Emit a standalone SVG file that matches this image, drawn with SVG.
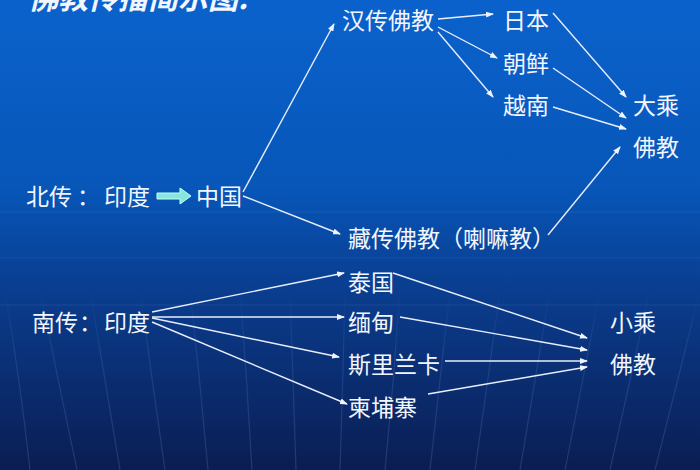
<svg xmlns="http://www.w3.org/2000/svg" width="700" height="470" viewBox="0 0 700 470">
<defs>
<linearGradient id="bg" x1="0" y1="0" x2="0" y2="1">
<stop offset="0" stop-color="#0b62cc"/>
<stop offset="0.4" stop-color="#0756b8"/>
<stop offset="0.6" stop-color="#0a3f92"/>
<stop offset="1" stop-color="#0b1d52"/>
</linearGradient>
<linearGradient id="fade" x1="0" y1="0" x2="0" y2="1">
<stop offset="0" stop-color="#9fc0ff" stop-opacity="0"/>
<stop offset="0.35" stop-color="#9fc0ff" stop-opacity="0.12"/>
<stop offset="1" stop-color="#9fc0ff" stop-opacity="0.16"/>
</linearGradient>
<marker id="ah" markerWidth="8" markerHeight="6" refX="7" refY="3" orient="auto" markerUnits="userSpaceOnUse">
<path d="M0,0 L8,3 L0,6 Z" fill="#eef3ff"/>
</marker>
<style>
text{font-family:"Noto Sans CJK SC","Noto Sans",sans-serif;fill:#f2f6ff;font-size:23px}
.title{font-size:30px;font-style:italic;font-weight:bold}
.c line{stroke:#e8eefc;stroke-width:1.4;marker-end:url(#ah)}
.grid line{stroke:#9fc0ff;stroke-opacity:0.1;stroke-width:1.2}
.grid path{stroke:url(#fade);stroke-width:1.2;fill:none}
</style>
</defs>
<rect width="700" height="470" fill="url(#bg)"/>
<g class="grid">
<line x1="0" y1="212" x2="700" y2="212"/>
<line x1="0" y1="258" x2="700" y2="258"/>
<line x1="0" y1="305" x2="700" y2="305"/>
<path d="M5,290 Q20,380 30,470"/>
<path d="M40,290 Q58,380 77,470"/>
<path d="M90,290 Q105,380 120,470"/>
<path d="M140,290 Q152,380 165,470"/>
<path d="M190,290 Q200,380 208,470"/>
<path d="M240,290 Q247,380 252,470"/>
<path d="M290,290 Q293,380 296,470"/>
<path d="M345,290 Q343,380 340,470"/>
<path d="M400,290 Q394,380 385,470"/>
<path d="M450,290 Q440,380 430,470"/>
<path d="M500,290 Q488,380 475,470"/>
<path d="M550,290 Q535,380 520,470"/>
<path d="M600,290 Q583,380 565,470"/>
<path d="M650,290 Q630,380 610,470"/>
<path d="M700,290 Q678,380 655,470"/>
</g>
<text class="title" x="28" y="9">佛教传播简示图:</text>
<g class="c" id="connectors">
<line x1="243" y1="192" x2="334" y2="24"/>
<line x1="243" y1="196" x2="340" y2="234"/>
<line x1="438" y1="19" x2="493" y2="14"/>
<line x1="438" y1="27" x2="497" y2="58"/>
<line x1="438" y1="32" x2="493" y2="97"/>
<line x1="553" y1="13" x2="626" y2="97"/>
<line x1="553" y1="68" x2="626" y2="118"/>
<line x1="553" y1="107" x2="626" y2="129"/>
<line x1="548" y1="235" x2="620" y2="147"/>
<line x1="152" y1="312" x2="344" y2="273"/>
<line x1="152" y1="317" x2="344" y2="317"/>
<line x1="152" y1="318" x2="339" y2="357"/>
<line x1="152" y1="322" x2="347" y2="404"/>
<line x1="393" y1="273" x2="587" y2="338"/>
<line x1="400" y1="317" x2="587" y2="350"/>
<line x1="445" y1="361" x2="587" y2="361"/>
<line x1="428" y1="394" x2="587" y2="367"/>
</g>
<g id="north"><text x="26" y="205">北传</text><text x="77" y="205">：</text><text x="104" y="205">印度</text>
<path d="M157,193 L180,193 L180,188 L191,196 L180,204 L180,199 L157,199 Z" fill="#86e6dc" stroke="#c8fff6" stroke-width="1"/></g>
<g id="china"><text x="196" y="205">中国</text></g>
<g id="han"><text x="342" y="29">汉传佛教</text></g>
<g id="japan"><text x="503" y="29">日本</text></g>
<g id="korea"><text x="503" y="72">朝鲜</text></g>
<g id="vietnam"><text x="503" y="114">越南</text></g>
<g id="mahayana"><text x="633" y="114">大乘</text><text x="633" y="156">佛教</text></g>
<g id="tibet"><text x="348" y="247">藏传佛教（喇嘛教）</text></g>
<g id="south"><text x="32" y="331">南传</text><text x="79" y="331">：</text><text x="104" y="331">印度</text></g>
<g id="thailand"><text x="348" y="291">泰国</text></g>
<g id="myanmar"><text x="348" y="331">缅甸</text></g>
<g id="srilanka"><text x="348" y="373">斯里兰卡</text></g>
<g id="cambodia"><text x="348" y="416">柬埔寨</text></g>
<g id="theravada"><text x="610" y="331">小乘</text><text x="610" y="373">佛教</text></g>
</svg>
